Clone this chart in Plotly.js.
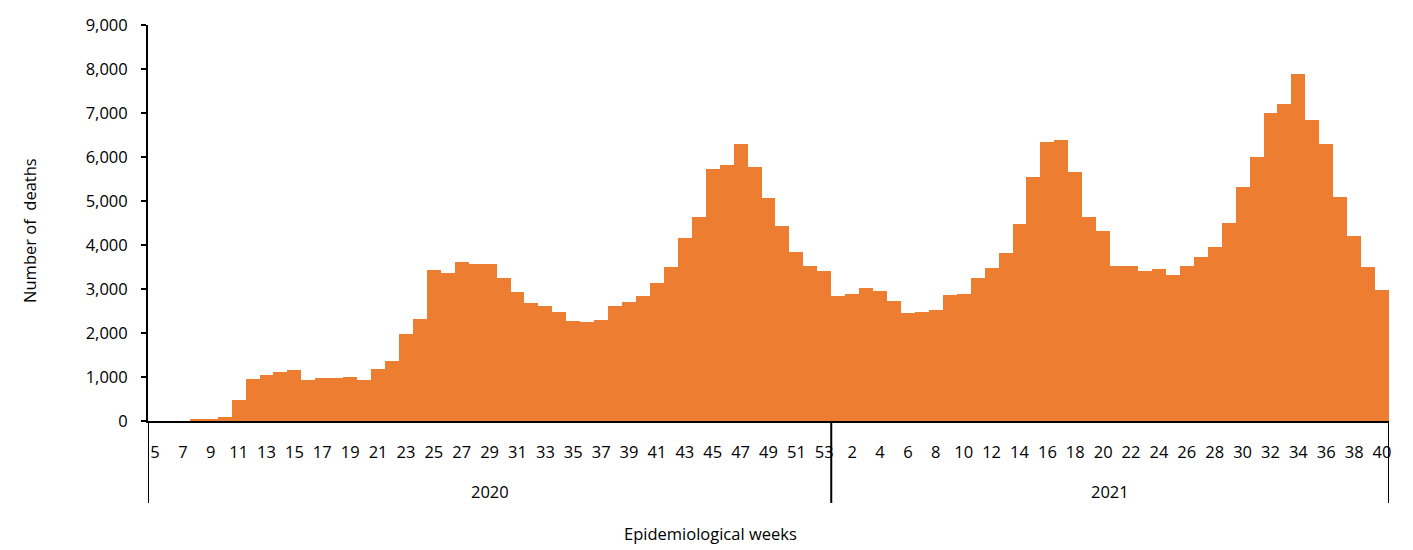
<!DOCTYPE html>
<html>
<head>
<meta charset="utf-8">
<script src="https://cdn.plot.ly/plotly-3.0.1.min.js"></script>
<style>html,body{margin:0;padding:0;background:#fff;}#chart{width:1413px;height:550px;}</style>
</head>
<body>
<div id="chart"></div>
<script>
// Data
var year2020 = "2020";
var year2021 = "2021";
var weeks2020 = [5,6,7,8,9,10,11,12,13,14,15,16,17,18,19,20,21,22,23,24,25,26,27,28,29,30,31,32,33,34,35,36,37,38,39,40,41,42,43,44,45,46,47,48,49,50,51,52,53];
var deaths2020 = [0,0,0,40,45,100,477,955,1053,1121,1159,939,985,985,1008,939,1182,1368,1985,2326,3439,3371,3614,3576,3576,3250,2939,2682,2614,2477,2273,2250,2295,2614,2705,2841,3140,3500,4159,4636,5727,5818,6295,5773,5068,4432,3841,3523,3409];
var weeks2021 = [1,2,3,4,5,6,7,8,9,10,11,12,13,14,15,16,17,18,19,20,21,22,23,24,25,26,27,28,29,30,31,32,33,34,35,36,37,38,39,40];
var deaths2021 = [2845,2894,3030,2955,2735,2462,2485,2530,2871,2894,3258,3485,3826,4477,5545,6348,6386,5667,4644,4326,3525,3523,3409,3455,3318,3523,3727,3955,4500,5318,6000,7000,7205,7886,6841,6295,5091,4205,3500,2977];
var labels2020 = [5,7,9,11,13,15,17,19,21,23,25,27,29,31,33,35,37,39,41,43,45,47,49,51,53];
var labels2021 = [2,4,6,8,10,12,14,16,18,20,22,24,26,28,30,32,34,36,38,40];

var xs = [], ys = [], hov = [];
weeks2020.forEach(function(w,i){ xs.push(i); ys.push(deaths2020[i]); hov.push(year2020+" wk "+w); });
var n20 = weeks2020.length;
weeks2021.forEach(function(w,i){ xs.push(n20+i); ys.push(deaths2021[i]); hov.push(year2021+" wk "+w); });
var nTot = xs.length;

var tickvals = [], ticktext = [];
labels2020.forEach(function(w){ tickvals.push(weeks2020.indexOf(w)); ticktext.push(String(w)); });
labels2021.forEach(function(w){ tickvals.push(n20 + weeks2021.indexOf(w)); ticktext.push(String(w)); });

var FONT = "'Open Sans', Lato, sans-serif";
var FS = 16.5;
var lineY = -0.207;
var shapes = [-0.5, n20-0.5, nTot-0.5].map(function(x){
  return {type:'line', xref:'x', yref:'paper', x0:x, x1:x, y0:0, y1:lineY, line:{color:'#000', width:2}};
});

var data = [{
  type:'bar', x: xs, y: ys, hovertext: hov, hoverinfo:'text+y', textposition:'none',
  marker:{color:'#ED7D31', line:{width:0}}
}];

var layout = {
  width:1413, height:550,
  margin:{l:148, r:24, t:25, b:129},
  paper_bgcolor:'#fff', plot_bgcolor:'#fff',
  bargap:0,
  showlegend:false,
  font:{family:FONT, color:'#000', size:FS},
  xaxis:{
    range:[-0.5, nTot-0.5], tickmode:'array', tickvals:tickvals, ticktext:ticktext,
    showgrid:false, zeroline:false, showline:true, linecolor:'#000', linewidth:2,
    ticks:'', ticklabelstandoff:15, tickangle:0,
    tickfont:{family:FONT, size:FS, color:'#000'}
  },
  yaxis:{
    range:[0,9000], dtick:1000, tickformat:',', showgrid:false, zeroline:false,
    showline:true, linecolor:'#000', linewidth:2, ticks:'outside', ticklen:5, tickcolor:'#000', tickwidth:2,
    ticklabelstandoff:10,
    tickfont:{family:FONT, size:FS, color:'#000'}
  },
  shapes: shapes,
  annotations:[
    {xref:'x', yref:'paper', x:(n20-1)/2, y:-0.178, text:year2020, showarrow:false, font:{family:FONT,size:FS,color:'#000'}, yanchor:'middle'},
    {xref:'x', yref:'paper', x:n20+(weeks2021.length-1)/2, y:-0.178, text:year2021, showarrow:false, font:{family:FONT,size:FS,color:'#000'}, yanchor:'middle'},
    {xref:'paper', yref:'paper', x:0.453, y:-0.285, text:'Epidemiological weeks', showarrow:false, font:{family:FONT,size:FS,color:'#000'}, xanchor:'center', yanchor:'middle'},
    {xref:'paper', yref:'paper', xshift:-118, x:0, y:0.48, text:'Number of  deaths', textangle:-90, showarrow:false, font:{family:FONT,size:FS,color:'#000'}, xanchor:'center', yanchor:'middle'}
  ]
};
Plotly.newPlot('chart', data, layout, {displayModeBar:false, staticPlot:true});
</script>
</body>
</html>
